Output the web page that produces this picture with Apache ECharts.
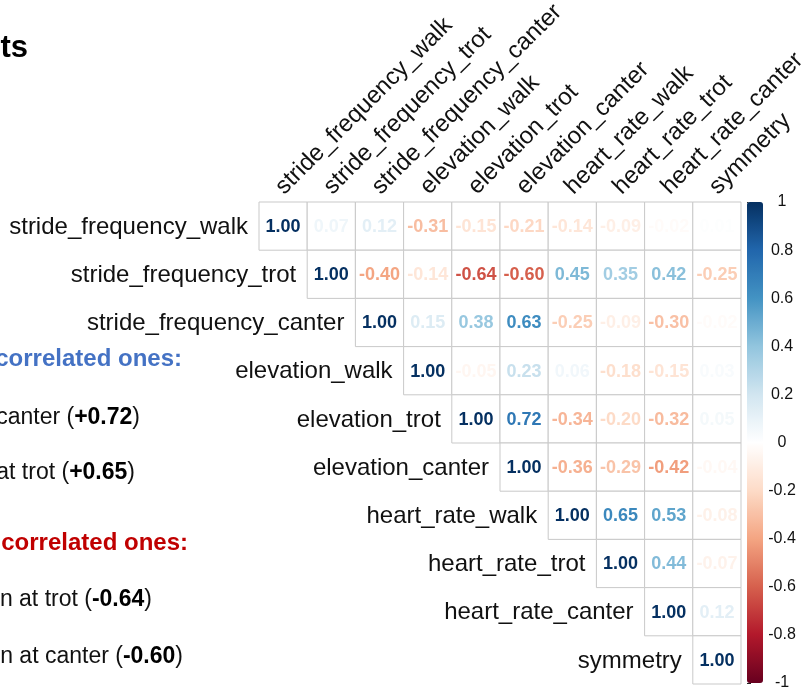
<!DOCTYPE html>
<html>
<head>
<meta charset="utf-8">
<title>Correlation matrix</title>
<script src="https://cdn.jsdelivr.net/npm/echarts@6/dist/echarts.min.js"></script>
<style>
  html, body { margin: 0; padding: 0; background: #ffffff; }
  #chart { width: 807px; height: 692px; }
</style>
</head>
<body>
<div id="chart"></div>
<script>
// Variables of the correlation matrix (rows and columns share the same order)
const variables = [
  'stride_frequency_walk', 'stride_frequency_trot', 'stride_frequency_canter',
  'elevation_walk', 'elevation_trot', 'elevation_canter',
  'heart_rate_walk', 'heart_rate_trot', 'heart_rate_canter', 'symmetry'
];

// Upper-triangle correlations, each row starting at its diagonal cell
const rowStrideWalk   = [1.00, 0.07, 0.12, -0.31, -0.15, -0.21, -0.14, -0.09, -0.02, 0.01];
const rowStrideTrot   = [1.00, -0.40, -0.14, -0.64, -0.60, 0.45, 0.35, 0.42, -0.25];
const rowStrideCanter = [1.00, 0.15, 0.38, 0.63, -0.25, -0.09, -0.30, -0.02];
const rowElevWalk     = [1.00, -0.05, 0.23, 0.06, -0.18, -0.15, 0.03];
const rowElevTrot     = [1.00, 0.72, -0.34, -0.20, -0.32, 0.05];
const rowElevCanter   = [1.00, -0.36, -0.29, -0.42, -0.04];
const rowHrWalk       = [1.00, 0.65, 0.53, -0.08];
const rowHrTrot       = [1.00, 0.44, -0.07];
const rowHrCanter     = [1.00, 0.12];
const rowSymmetry     = [1.00];

const corrRows = [rowStrideWalk, rowStrideTrot, rowStrideCanter, rowElevWalk, rowElevTrot,
                  rowElevCanter, rowHrWalk, rowHrTrot, rowHrCanter, rowSymmetry];

// Colour-bar tick labels
const legendTicks = [-1, -0.8, -0.6, -0.4, -0.2, 0, 0.2, 0.4, 0.6, 0.8, 1];

// Side notes
const positiveHeading = 'correlated ones:';
const positiveNotes = [['canter (', '+0.72', ')'], ['at trot (', '+0.65', ')']];
const negativeHeading = 'correlated ones:';
const negativeNotes = [['n at trot (', '-0.64', ')'], ['n at canter (', '-0.60', ')']];

// Diverging red-blue palette from -1 to 1
const rdbu = ['#67001F', '#B2182B', '#D6604D', '#F4A582', '#FDDBC7', '#FFFFFF',
              '#D1E5F0', '#92C5DE', '#4393C3', '#2166AC', '#053061'];

function hexToRgb(h) {
  return [parseInt(h.slice(1, 3), 16), parseInt(h.slice(3, 5), 16), parseInt(h.slice(5, 7), 16)];
}
function paletteColor(v) {
  const t = (Math.max(-1, Math.min(1, v)) + 1) / 2 * (rdbu.length - 1);
  const i = Math.min(rdbu.length - 2, Math.floor(t));
  const f = t - i;
  const a = hexToRgb(rdbu[i]), b = hexToRgb(rdbu[i + 1]);
  const c = a.map((x, k) => Math.round(x + (b[k] - x) * f));
  return 'rgb(' + c.join(',') + ')';
}

const FONT = '"Liberation Sans", Arial, Helvetica, sans-serif';

const cellData = [];
corrRows.forEach((row, r) => {
  row.forEach((v, k) => { cellData.push([r + k, r, v]); });
});
const rowLabelData = variables.map((name, i) => [i, i]);
const colLabelData = variables.map((name, i) => [i, 0]);

const chart = echarts.init(document.getElementById('chart'), null, { renderer: 'canvas' });

const notes = [];
notes.push({ text: '{h|' + positiveHeading + '}', x: 182, y: 359, color: '#4472C4' });
notes.push({ text: '{n|' + positiveNotes[0][0] + '}{b|' + positiveNotes[0][1] + '}{n|' + positiveNotes[0][2] + '}', x: 140, y: 418 });
notes.push({ text: '{n|' + positiveNotes[1][0] + '}{b|' + positiveNotes[1][1] + '}{n|' + positiveNotes[1][2] + '}', x: 135, y: 473 });
notes.push({ text: '{h|' + negativeHeading + '}', x: 188, y: 543, color: '#C00000' });
notes.push({ text: '{n|' + negativeNotes[0][0] + '}{b|' + negativeNotes[0][1] + '}{n|' + negativeNotes[0][2] + '}', x: 152, y: 600 });
notes.push({ text: '{n|' + negativeNotes[1][0] + '}{b|' + negativeNotes[1][1] + '}{n|' + negativeNotes[1][2] + '}', x: 183, y: 657 });

const graphics = [{
  type: 'text', x: 28, y: 48,
  style: { text: 'ts', x: 0, y: 0, align: 'right', verticalAlign: 'middle',
           font: 'bold 31px ' + FONT, fill: '#000000' }
}];
notes.forEach(n => {
  graphics.push({
    type: 'text', x: n.x, y: n.y,
    style: {
      text: n.text, x: 0, y: 0, align: 'right', verticalAlign: 'middle',
      rich: {
        h: { fontFamily: FONT, fontSize: 24, fontWeight: 'bold', fill: n.color || '#000', color: n.color || '#000' },
        n: { fontFamily: FONT, fontSize: 23, fill: '#111', color: '#111' },
        b: { fontFamily: FONT, fontSize: 23, fontWeight: 'bold', fill: '#000', color: '#000' }
      }
    }
  });
});

chart.setOption({
  backgroundColor: '#ffffff',
  animation: false,
  graphic: graphics,
  grid: [
    { left: 259, top: 202, width: 482, height: 482 },
    { left: 747, top: 202, width: 16, height: 481 }
  ],
  xAxis: [
    { type: 'category', gridIndex: 0, data: variables, show: false },
    { type: 'value', gridIndex: 1, show: false, min: 0, max: 1 }
  ],
  yAxis: [
    { type: 'category', gridIndex: 0, data: variables, inverse: true, show: false },
    {
      type: 'value', gridIndex: 1, position: 'right', min: legendTicks[0],
      max: legendTicks[legendTicks.length - 1], interval: 0.2,
      splitLine: { show: false },
      axisLine: { show: false },
      axisTick: { show: true, length: 4, lineStyle: { color: '#222', width: 1 } },
      axisLabel: {
        margin: 19, align: 'center', fontFamily: FONT, fontSize: 16, color: '#111',
        formatter: v => String(Math.round(v * 10) / 10)
      }
    }
  ],
  visualMap: {
    type: 'continuous', min: -1, max: 1, seriesIndex: 3,
    orient: 'vertical', left: 747, top: 202, itemWidth: 16, itemHeight: 481,
    padding: 0, calculable: false, hoverLink: false, text: null, showLabel: false,
    inRange: { color: rdbu }
  },
  series: [
    {
      // cells: bordered boxes with coloured coefficients
      type: 'custom', xAxisIndex: 0, yAxisIndex: 0, data: cellData,
      renderItem: function (params, api) {
        const c = api.coord([api.value(0), api.value(1)]);
        const s = api.size([1, 1]);
        const v = api.value(2);
        return {
          type: 'group',
          children: [
            { type: 'rect',
              shape: { x: c[0] - s[0] / 2, y: c[1] - s[1] / 2, width: s[0], height: s[1] },
              style: { fill: '#ffffff', stroke: '#c9c9c9', lineWidth: 1 } },
            { type: 'text', x: c[0], y: c[1] + 1,
              style: { text: v.toFixed(2), x: 0, y: 0, align: 'center', verticalAlign: 'middle',
                       font: 'bold 18px ' + FONT, fill: paletteColor(v) } }
          ]
        };
      }
    },
    {
      // row names, right-aligned against each diagonal cell
      type: 'custom', xAxisIndex: 0, yAxisIndex: 0, data: rowLabelData,
      renderItem: function (params, api) {
        const c = api.coord([api.value(0), api.value(1)]);
        const s = api.size([1, 1]);
        return {
          type: 'text', x: c[0] - s[0] / 2 - 11, y: c[1] + 1,
          style: { text: variables[api.value(1)], x: 0, y: 0, align: 'right', verticalAlign: 'middle',
                   font: '24px ' + FONT, fill: '#111' }
        };
      }
    },
    {
      // column names, rotated above the first row
      type: 'custom', xAxisIndex: 0, yAxisIndex: 0, data: colLabelData,
      renderItem: function (params, api) {
        const c = api.coord([api.value(0), 0]);
        const s = api.size([1, 1]);
        return {
          type: 'text', x: c[0] + 5, y: c[1] - s[1] / 2 - 3, rotation: Math.PI / 4,
          style: { text: variables[api.value(0)], x: 0, y: 0, align: 'left', verticalAlign: 'bottom',
                   font: '24px ' + FONT, fill: '#111' }
        };
      }
    },
    {
      // carrier for the colour bar
      type: 'scatter', xAxisIndex: 1, yAxisIndex: 1, data: [], silent: true
    }
  ]
});
</script>
</body>
</html>
